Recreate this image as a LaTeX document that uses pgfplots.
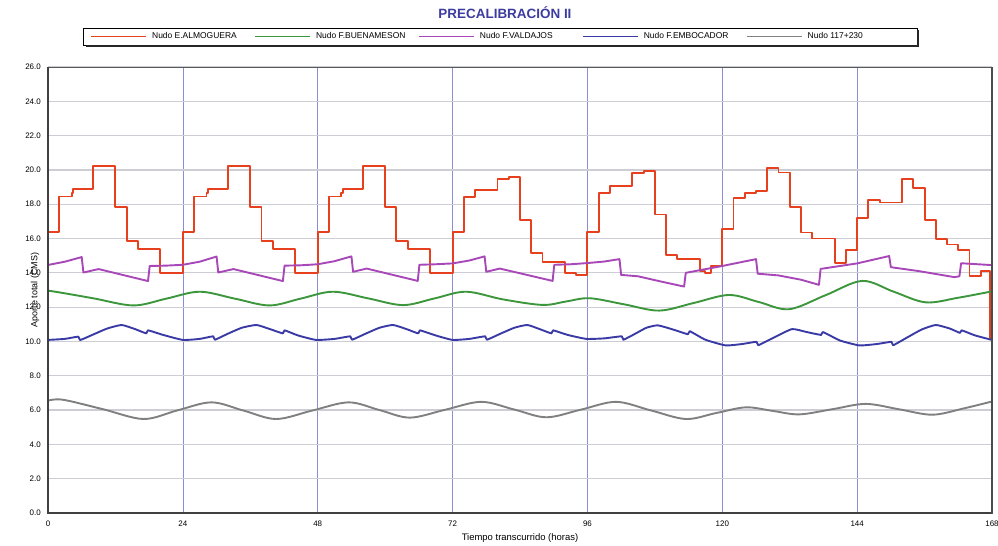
\documentclass[border=0pt]{standalone}
\usepackage{fontspec}
\setmainfont{Liberation Sans}
\usepackage{pgfplots}
\pgfplotsset{compat=1.18}

\definecolor{cRed}{HTML}{E6401E}
\definecolor{cGreen}{HTML}{3C963C}
\definecolor{cViolet}{HTML}{A848B8}
\definecolor{cBlue}{HTML}{3A3AA6}
\definecolor{cGray}{HTML}{808080}
\definecolor{titleblue}{HTML}{3C3CA0}
\definecolor{vgrid}{HTML}{8C8CD2}
\definecolor{hgrid}{HTML}{CDCDD6}

\pgfplotsset{
  series/.style={line width=1.9bp, line join=round},
  % short horizontal line sample for each legend entry
  legend image code/.code={%
    \path[#1, draw=none, fill=none] (0bp,-1bp) rectangle (55bp,1bp);
    \draw[#1, line width=1.9bp] (0bp,0bp) -- (55bp,0bp);},
}

\begin{document}
\begin{tikzpicture}
\path[use as bounding box] (0bp,0bp) rectangle (998bp,546bp);
\begin{axis}[
  at={(48bp,33bp)}, anchor=south west,
  scale only axis, width=944bp, height=446bp,
  xmin=0, xmax=168, ymin=0, ymax=26,
  xtick={0,24,...,168}, ytick={0,2,...,26},
  /pgf/number format/assume math mode=true,
  yticklabel style={/pgf/number format/fixed, /pgf/number format/fixed zerofill,
    /pgf/number format/precision=1,
    font=\fontsize{8}{9.6}\selectfont, inner sep=0pt, xshift=-7bp},
  xticklabel style={font=\fontsize{8}{9.6}\selectfont, inner sep=0pt, yshift=-8bp},
  tick style={draw=none},
  xmajorgrids, ymajorgrids,
  x grid style={draw=vgrid, line width=0.7bp},
  y grid style={draw=hgrid, line width=1.3bp},
  axis line style={draw=black!65, line width=0.8bp},
  every axis title shift=0pt,
  title={PRECALIBRACIÓN II},
  title style={at={(axis description cs:0.4841,1.1211)}, anchor=center,
    font=\bfseries\fontsize{13.5}{16}\selectfont, text=titleblue},
  xlabel={Tiempo transcurrido (horas)},
  xlabel style={at={(axis description cs:0.5,-0.056)}, anchor=center,
    font=\fontsize{9.5}{11}\selectfont},
  ylabel={Aporte total (CMS)},
  ylabel style={at={(axis description cs:-0.0138,0.5)}, anchor=center,
    font=\fontsize{9}{11}\selectfont},
  legend columns=5,
  legend style={name=leg, at={(axis description cs:0.4788,1.0684)}, anchor=center,
    draw=none, fill=white,
    inner xsep=7bp, inner ysep=4.5bp,
    nodes={inner sep=0pt, font=\fontsize{8.5}{10}\selectfont},
    column sep=0pt},
  after end axis/.code={
    \draw[line width=2.6bp, draw=black!75]
      (rel axis cs:0,1) -- (rel axis cs:0,0) -- (rel axis cs:1,0);
    \draw[line width=1.4bp, draw=black!70] (rel axis cs:1,0) -- (rel axis cs:1,1);
  },
]

% Nudo E.ALMOGUERA: hourly stepped inflow
\addplot[series, cRed, const plot mark left] coordinates {
 (0,16.4) (2,18.45) (4.2,18.65) (4.5,18.9) (8,20.25) (12,17.85) (14,15.85) (16,15.4) (20,14.0)
 (24,16.4) (26,18.45) (28.2,18.65) (28.5,18.9) (32,20.25) (36,17.85) (38,15.85) (40,15.4) (44,14.0)
 (48,16.4) (50,18.45) (52.2,18.65) (52.5,18.9) (56,20.25) (60,17.85) (62,15.85) (64,15.4) (68,14.0)
 (72,16.4) (74,18.4) (76,18.85) (80,19.45) (82,19.6) (84,17.1) (86,15.15) (88,14.65) (92,14.0) (94,13.85)
 (96,16.4) (98,18.65) (100,19.05) (104,19.8) (106,19.95) (108,17.4) (110,15.05) (112,14.8) (116,14.1) (117,14.0) (118,14.4)
 (120,16.55) (122,18.35) (124,18.65) (126,18.75) (128,20.1) (130,19.85) (132,17.85) (134,16.35) (136,16.0) (140,14.55) (142,15.35)
 (144,17.2) (146,18.25) (148,18.1) (152,19.45) (154,18.95) (156,17.1) (158,15.95) (160,15.65) (162,15.35) (164,13.8) (166,14.1)
 (167.7,10.2) (168,10.2)
};
\addlegendentry{\hspace*{5bp}\makebox[102bp][l]{Nudo E.ALMOGUERA}}

% Nudo F.BUENAMESON
\addplot[series, cGreen, smooth, tension=0.55] coordinates {
 (0,12.9) (0.7,12.93) (8,12.52) (15.2,12.1) (21.1,12.5) (27,12.9) (33.2,12.5) (39.4,12.1)
 (45,12.5) (50.7,12.9) (57,12.51) (63.2,12.12) (68.8,12.51) (74.4,12.9) (81,12.45) (88,12.13)
 (92.2,12.33) (96.4,12.52) (102.6,12.16) (108.8,11.8) (115,12.25) (121.2,12.71) (126.5,12.3)
 (131.9,11.88) (138.4,12.7) (144.9,13.53) (150.5,12.9) (156.2,12.28) (162,12.55) (168,12.92)
};
\addlegendentry{\hspace*{5bp}\makebox[102bp][l]{Nudo F.BUENAMESON}}

% Nudo F.VALDAJOS
\addplot[series, cViolet] coordinates {
 (0,14.46) (3,14.65) (6,14.92) (6.3,14.02) (9,14.22) (17.8,13.52) (18.1,14.4) (21,14.42) (24,14.47) (27,14.65)
 (30,14.95) (30.3,14.02) (33,14.22) (41.8,13.52) (42.1,14.42) (45,14.44) (48,14.5) (51,14.68)
 (54,14.96) (54.3,14.06) (56.7,14.25) (65.8,13.53) (66.1,14.47) (69,14.5) (72,14.55) (75,14.72)
 (77.7,14.96) (78.0,14.06) (80.4,14.25) (89.8,13.53) (90.1,14.47) (93,14.5) (96,14.57) (99,14.66)
 (101.7,14.8) (102.0,13.88) (105,13.8) (109,13.5) (113.2,13.2) (113.5,14.0) (120,14.4) (126,14.8)
 (126.3,13.95) (130,13.85) (134,13.6) (137.2,13.3) (137.5,14.23) (144,14.55) (149.7,14.98)
 (150.0,14.33) (155,14.1) (161.3,13.75) (162.2,13.8) (162.5,14.56) (168,14.45)
};
\addlegendentry{\hspace*{5bp}\makebox[102bp][l]{Nudo F.VALDAJOS}}

% Nudo F.EMBOCADOR
\addplot[series, cBlue, smooth, tension=0.3] coordinates {
 (0,10.09) (3,10.15) (5.4,10.28) (5.7,10.08) (8,10.4) (10.5,10.75) (13.1,10.96) (15.5,10.72) (17.5,10.47) (17.8,10.65) (20.5,10.38) (24,10.09)
 (27,10.15) (29.4,10.3) (29.7,10.1) (32,10.45) (34.5,10.8) (37.1,10.96) (39.5,10.72) (41.8,10.47) (42.1,10.65) (44.5,10.35) (47.7,10.09)
 (51,10.15) (53.8,10.3) (54.1,10.1) (56.5,10.45) (59,10.8) (61.4,10.96) (63.8,10.72) (65.9,10.47) (66.2,10.65) (69,10.35) (72,10.09)
 (75,10.15) (77.8,10.3) (78.1,10.1) (80.5,10.45) (83,10.8) (85.3,10.96) (87.5,10.72) (89.6,10.47) (89.9,10.65) (92.5,10.38) (95.8,10.15)
 (99,10.18) (102.1,10.3) (102.4,10.1) (104.5,10.45) (106.5,10.8) (108.5,10.94) (111,10.72) (113.9,10.42) (114.2,10.6) (117,10.1) (120.6,9.77)
 (123.5,9.85) (126.1,9.98) (126.4,9.78) (129,10.2) (132.4,10.72) (135,10.55) (137.6,10.38) (137.9,10.55) (141,10.05) (144.4,9.77)
 (147.5,9.85) (150.1,9.98) (150.4,9.78) (153,10.25) (155.5,10.7) (158,10.96) (160.5,10.75) (162.3,10.5) (162.6,10.65) (165,10.35) (168,10.09)
};
\addlegendentry{\hspace*{5bp}\makebox[102bp][l]{Nudo F.EMBOCADOR}}

% Nudo 117+230
\addplot[series, cGray, smooth, tension=0.55] coordinates {
 (0,6.55) (2.7,6.6) (9.8,6.05) (17,5.48) (23,5.98) (29.1,6.45) (34.8,5.97) (40.6,5.48)
 (47,5.97) (53.5,6.45) (59,6.0) (64.4,5.56) (70.7,6.02) (77.1,6.48) (83,6.03) (88.7,5.58)
 (94.9,6.03) (101.1,6.48) (107.3,5.98) (113.5,5.48) (118.8,5.82) (124.2,6.16) (129,5.95)
 (133.7,5.75) (139.6,6.05) (145.5,6.36) (151.4,6.05) (157.4,5.73) (163,6.1) (168,6.5)
};
\addlegendentry{\hspace*{5bp}\makebox[102bp][l]{Nudo 117+230}}

\end{axis}
% legend frame with its shadow along the right and lower edges
\draw[black, line width=0.8bp] (leg.south west) rectangle (leg.north east);
\fill[black!85] ([yshift=-2.5bp]leg.north east) rectangle ([xshift=2.5bp]leg.south east);
\fill[black!85] ([xshift=2.5bp]leg.south west) rectangle ([xshift=2.5bp,yshift=-2.5bp]leg.south east);
\end{tikzpicture}
\end{document}
